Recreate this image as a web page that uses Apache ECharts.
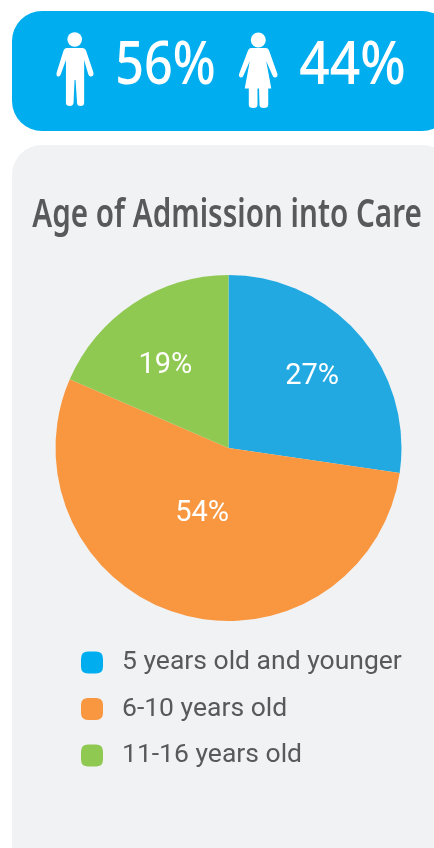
<!DOCTYPE html>
<html><head><meta charset="utf-8">
<style>html,body{margin:0;padding:0;background:#fff}#c{width:434px;height:848px}</style>
<script src="https://cdn.jsdelivr.net/npm/echarts@6/dist/echarts.min.js"></script>
</head><body><div id="c"></div>
<script>
const categories = ['5 years old and younger', '6-10 years old', '11-16 years old'];
const values = [27.3, 54.2, 18.5];
const colors = ['#22A9E1', '#F99740', '#90C952'];
const legendColors = ['#00AEEF', '#F99740', '#90C952'];
const chartTitle = 'Age of Admission into Care';
const malePct = '56%';
const femalePct = '44%';
const labelShift = [[16, -13], [-2, -20], [-14, -7]];
const condensed = '"Noto Sans",sans-serif';
const manPath = 'M67 48L82 48Q85 48 86 51L93 72Q94 76 91 76.5Q89 77 88 74L84 60L84 103Q84 106 80.5 106Q77 106 77 103L75.5 80L74.5 80L73.5 103Q73 106 70 106Q66 106 66 103L66 60L61 74Q60 77 58 76.5Q56 76 57 72L63.5 51Q64.5 48 67 48Z';
const womanPath = 'M251 48L266 48Q268 48 269 51L277 74Q277.5 77 275 77.5Q273 78 272 75L266 61L271 88.5L268 88.5L268 105Q268 108 263.5 108Q259.5 108 259.5 105L259 88.5L257.5 88.5L257.5 105Q257.5 108 253.5 108Q249 108 249 105L249 88.5L245 88.5L250 61L244 75Q243 78 241 77.5Q239 77 239.5 74L248 51Q249 48 251 48Z';
const legendIcon = 'path://M7 0H15Q22 0 22 7V15Q22 22 15 22H7Q0 22 0 15V7Q0 0 7 0Z';
const chart = echarts.init(document.getElementById('c'), null, {renderer: 'canvas'});
chart.setOption({
  animation: false,
  backgroundColor: '#fff',
  color: colors,
  graphic: [
    {type: 'rect', z: -2, shape: {x: 12, y: 11, width: 440, height: 120, r: 30}, style: {fill: '#00AEEF'}},
    {type: 'rect', z: -2, shape: {x: 12, y: 145, width: 440, height: 730, r: 30}, style: {fill: '#F1F2F4'}},
    {type: 'circle', shape: {cx: 74.7, cy: 39.5, r: 7.3}, style: {fill: '#fff'}},
    {type: 'circle', shape: {cx: 258.3, cy: 40, r: 7.5}, style: {fill: '#fff'}},
    {type: 'text', x: 165.5, y: 67, scaleX: 0.84, style: {text: malePct, fill: '#fff', font: '500 60px ' + condensed, align: 'center', verticalAlign: 'middle'}},
    {type: 'text', x: 352.5, y: 67, scaleX: 0.89, style: {text: femalePct, fill: '#fff', font: '500 60px ' + condensed, align: 'center', verticalAlign: 'middle'}},
    {type: 'text', x: 227, y: 216, scaleX: 0.76, style: {text: chartTitle, fill: '#58595B', font: '600 39px ' + condensed, align: 'center', verticalAlign: 'middle'}}
  ],
  legend: {
    orient: 'vertical', left: 81, top: 649, padding: 0, itemWidth: 22, itemHeight: 22, itemGap: 19.5, icon: legendIcon,
    textStyle: {fontFamily: 'Roboto', fontSize: 26.5, color: '#58595B', padding: [0, 0, 0, 14]},
    selectedMode: false,
    data: categories.map((name, i) => ({name, itemStyle: {color: legendColors[i]}}))
  },
  series: [{
    type: 'pie', center: [228.5, 448], radius: [0, 173], startAngle: 90, clockwise: true,
    itemStyle: {borderWidth: 0},
    label: {show: true, position: 'inside', formatter: p => Math.round(p.value) + '%', fontFamily: 'Roboto', fontWeight: 400, fontSize: 29, color: '#fff'},
    labelLine: {show: false},
    labelLayout: p => ({dx: labelShift[p.dataIndex][0], dy: labelShift[p.dataIndex][1]}),
    data: categories.map((name, i) => ({name, value: values[i], itemStyle: {color: colors[i]}}))
  }, {
    type: 'custom', coordinateSystem: 'none', silent: true, data: [0], z: 3,
    renderItem: () => ({type: 'group', children: [
      {type: 'path', shape: {pathData: manPath, layout: 'cover', x: 56.5, y: 48, width: 37, height: 58}, style: {fill: '#fff'}},
      {type: 'path', shape: {pathData: womanPath, layout: 'cover', x: 239, y: 48, width: 38.5, height: 60}, style: {fill: '#fff'}}
    ]})
  }]
});
</script></body></html>
